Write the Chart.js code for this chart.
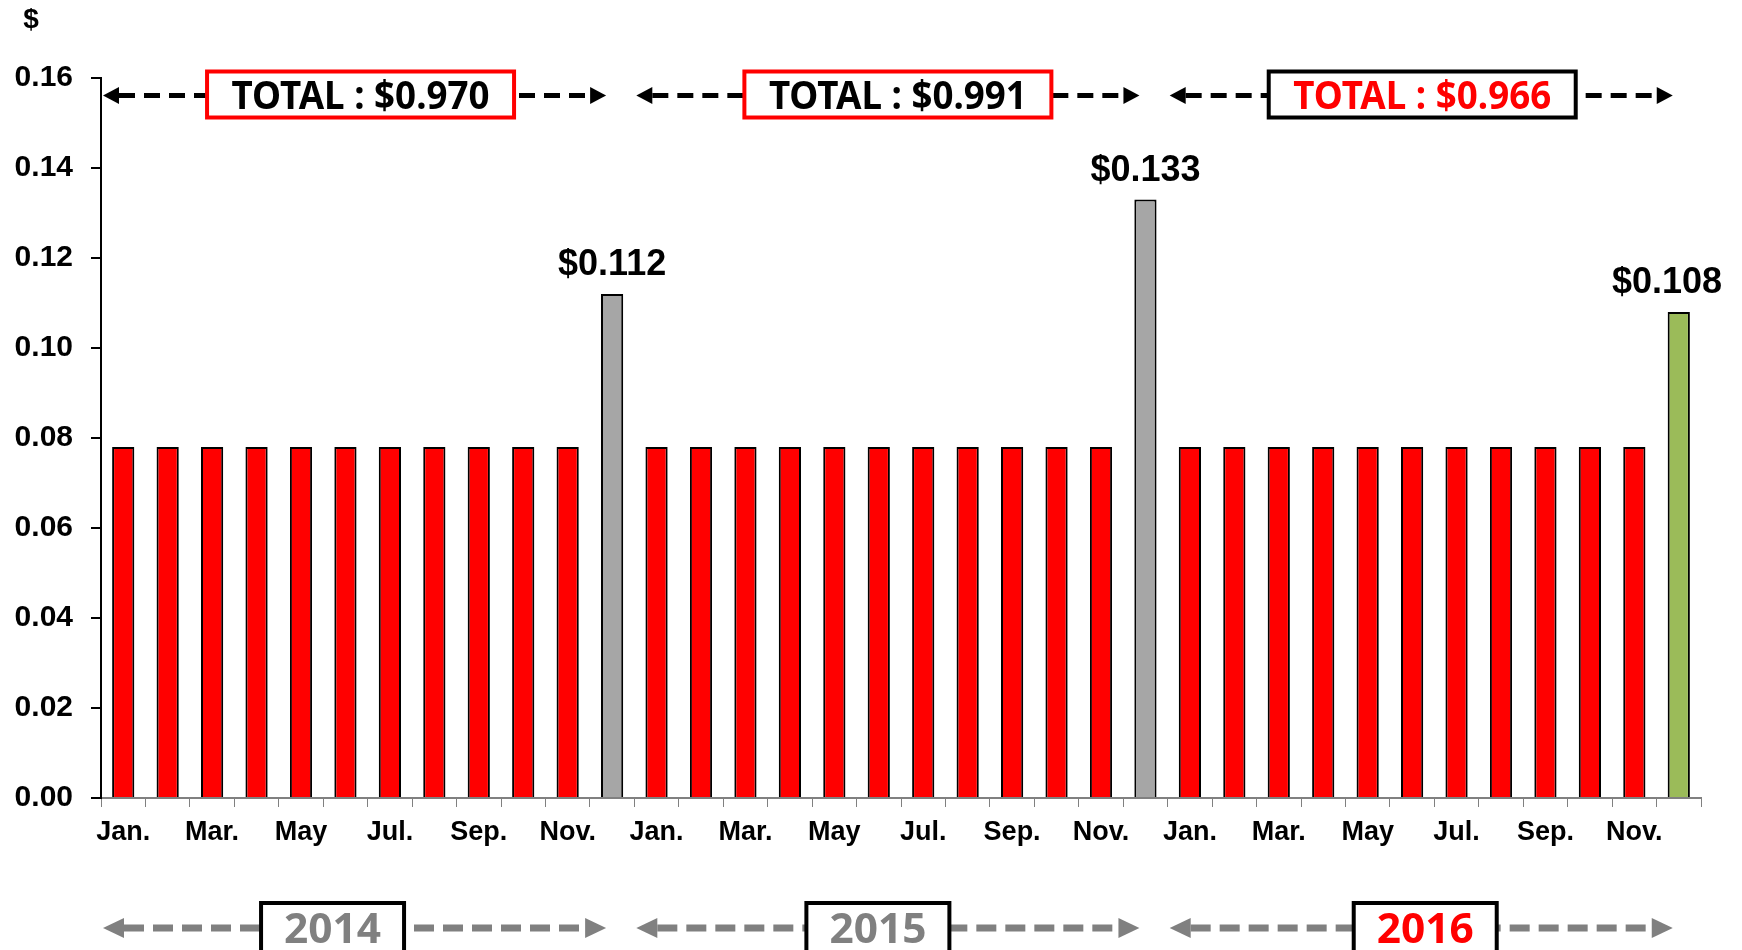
<!DOCTYPE html>
<html>
<head>
<meta charset="utf-8">
<script src="https://cdn.jsdelivr.net/npm/chart.js@4.4.0/dist/chart.umd.min.js"></script>
<style>
  html, body { margin: 0; padding: 0; background: #fff; }
  #wrap { width: 1742px; height: 950px; position: relative; }
</style>
</head>
<body>
<div id="wrap"><canvas id="chart"></canvas></div>
<script>
const years = ['2014', '2015', '2016'];
const monthLabels = ['Jan.', 'Feb.', 'Mar.', 'Apr.', 'May', 'Jun.', 'Jul.', 'Aug.', 'Sep.', 'Oct.', 'Nov.', 'Dec.'];
const values2014 = [0.078, 0.078, 0.078, 0.078, 0.078, 0.078, 0.078, 0.078, 0.078, 0.078, 0.078, 0.112];
const values2015 = [0.078, 0.078, 0.078, 0.078, 0.078, 0.078, 0.078, 0.078, 0.078, 0.078, 0.078, 0.133];
const values2016 = [0.078, 0.078, 0.078, 0.078, 0.078, 0.078, 0.078, 0.078, 0.078, 0.078, 0.078, 0.108];
const yearTotals = ['$0.970', '$0.991', '$0.966'];
const yTicks = [0, 0.02, 0.04, 0.06, 0.08, 0.10, 0.12, 0.14, 0.16];

const categories = years.flatMap(() => monthLabels);
const values = values2014.concat(values2015, values2016);

const decColors = ['#A6A6A6', '#A6A6A6', '#9BBB59'];
const barColors = values.map((v, i) => i % 12 === 11 ? decColors[Math.floor(i / 12)] : '#FF0000');

// hand-placed nudges of the boxes, as in the original slide
const totalBoxShift = [6, 10, 1];
const yearBoxShift = [-22, -10, 4];

function dashedArrow(c, x1, x2, y, color, lw, dash, headLen, headHalf) {
    c.save();
    c.strokeStyle = color;
    c.fillStyle = color;
    c.lineWidth = lw;
    c.setLineDash(dash);
    c.beginPath();
    c.moveTo(x1 + headLen, y);
    c.lineTo(x2 - headLen, y);
    c.stroke();
    c.setLineDash([]);
    c.beginPath();
    c.moveTo(x1, y);
    c.lineTo(x1 + headLen, y - headHalf);
    c.lineTo(x1 + headLen, y + headHalf);
    c.closePath();
    c.fill();
    c.beginPath();
    c.moveTo(x2, y);
    c.lineTo(x2 - headLen, y - headHalf);
    c.lineTo(x2 - headLen, y + headHalf);
    c.closePath();
    c.fill();
    c.restore();
}

function box(c, cx, top, w, h, color, lw) {
    c.save();
    c.fillStyle = '#fff';
    c.fillRect(cx - w / 2, top, w, h);
    c.strokeStyle = color;
    c.lineWidth = lw;
    c.strokeRect(cx - w / 2, top, w, h);
    c.restore();
}

// draw text squeezed to a target width
function fitText(c, text, cx, baseline, size, targetW, color) {
    c.save();
    c.font = 'bold ' + size + 'px "Noto Sans", "Open Sans", sans-serif';
    const w = c.measureText(text).width;
    c.translate(cx, baseline);
    c.scale(targetW / w, 1);
    c.fillStyle = color;
    c.textAlign = 'center';
    c.textBaseline = 'alphabetic';
    c.fillText(text, 0, 0);
    c.restore();
}

const annotations = {
    id: 'annotations',
    afterDraw(chart) {
        const c = chart.ctx;
        const xs = chart.scales.x;
        const ys = chart.scales.y;
        const half = (xs.getPixelForValue(1) - xs.getPixelForValue(0)) / 2;

        c.save();
        c.fillStyle = '#000';
        c.textAlign = 'center';
        c.textBaseline = 'middle';
        c.font = 'bold 28px "Liberation Sans", Arial, sans-serif';
        c.fillText('$', 31, 20);

        c.font = 'bold 36px "Liberation Sans", Arial, sans-serif';
        c.textBaseline = 'alphabetic';
        values.forEach((v, i) => {
            if (i % 12 !== 11) return;
            const label = '$' + v.toFixed(3);
            const w = c.measureText(label).width;
            const px = Math.min(xs.getPixelForValue(i), chart.width - 20 - w / 2);
            c.fillText(label, px, ys.getPixelForValue(v) - 19);
        });
        c.restore();

        years.forEach((yr, g) => {
            const x1 = xs.getPixelForValue(g * 12) - half + 2;
            const x2 = xs.getPixelForValue(g * 12 + 11) - 6;
            const mid = (x1 + x2) / 2;
            const tx = mid + totalBoxShift[g];
            const bx = mid + yearBoxShift[g];

            dashedArrow(c, x1, x2, 95.5, '#000', 5, [16, 9], 16, 8.5);
            box(c, tx, 71.5, 307, 46, g === 2 ? '#000' : '#FF0000', 4);
            fitText(c, 'TOTAL : ' + yearTotals[g], tx, 109, 39, 258, g === 2 ? '#FF0000' : '#000');

            dashedArrow(c, x1, x2, 928, '#808080', 7, [20, 9], 21, 10);
            box(c, bx, 903, 143, 60, '#000', 4);
            fitText(c, yr, bx, 943, 42, 97, g === 2 ? '#FF0000' : '#808080');
        });
    }
};

const ctx = document.getElementById('chart').getContext('2d');
new Chart(ctx, {
    type: 'bar',
    data: {
        labels: categories,
        datasets: [{
            data: values,
            backgroundColor: barColors,
            borderColor: '#000',
            borderWidth: 2,
            barPercentage: 0.5,
            categoryPercentage: 1.0
        }]
    },
    options: {
        responsive: true,
        maintainAspectRatio: false,
        animation: false,
        layout: { padding: { top: 78, right: 41, bottom: 0, left: 0 } },
        plugins: {
            legend: { display: false },
            tooltip: { enabled: false }
        },
        scales: {
            x: {
                grid: { drawOnChartArea: false, drawTicks: true, tickLength: 9, color: '#808080', lineWidth: 1 },
                border: { display: true, color: '#808080', width: 2 },
                ticks: {
                    autoSkip: false,
                    maxRotation: 0,
                    minRotation: 0,
                    padding: 9,
                    color: '#000',
                    font: { family: '"Liberation Sans", Arial, sans-serif', weight: 'bold', size: 27 },
                    callback: (v, i) => i % 2 === 0 ? categories[i] : ''
                },
                afterFit: s => { s.height = 152; }
            },
            y: {
                min: 0,
                max: 0.16,
                afterBuildTicks: s => { s.ticks = yTicks.map(v => ({ value: v })); },
                grid: { drawOnChartArea: false, drawTicks: true, tickLength: 10, color: '#000', lineWidth: 2 },
                border: { display: true, color: '#000', width: 2 },
                ticks: {
                    color: '#000',
                    padding: 18,
                    font: { family: '"Liberation Sans", Arial, sans-serif', weight: 'bold', size: 30 },
                    callback: v => v.toFixed(2)
                },
                afterFit: s => { s.width = 101; }
            }
        }
    },
    plugins: [annotations]
});
</script>
</body>
</html>
